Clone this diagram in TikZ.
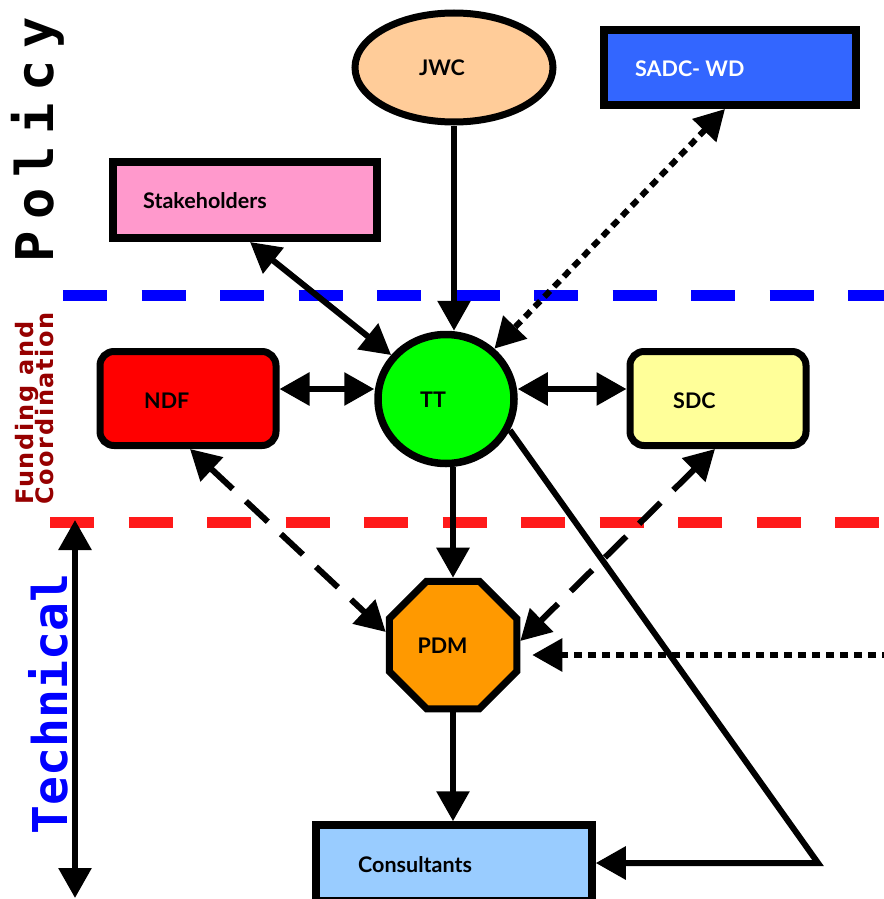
\documentclass[tikz,border=0pt]{standalone}
\usepackage{fontspec}
\setmainfont{Lato}
\newfontfamily\monofont{DejaVu Sans Mono}
\newfontfamily\policyfont{DejaVu Sans Mono}[UprightFont={* Bold}, LetterSpace=22]
\newfontfamily\fundfont{DejaVu Sans}[UprightFont={* Bold}, LetterSpace=7]
\usetikzlibrary{arrows.meta,shapes.geometric,calc}

\definecolor{jwcfill}{HTML}{FFCC99}
\definecolor{sadcfill}{HTML}{3366FF}
\definecolor{stakefill}{HTML}{FF99CC}
\definecolor{ttfill}{HTML}{00FF00}
\definecolor{ndffill}{HTML}{FF0000}
\definecolor{sdcfill}{HTML}{FFFF99}
\definecolor{pdmfill}{HTML}{FF9900}
\definecolor{consfill}{HTML}{99CCFF}
\definecolor{polblue}{HTML}{0000FF}
\definecolor{fundred}{HTML}{FF1A1A}
\definecolor{fundtext}{HTML}{960000}

\tikzset{
  shapebox/.style={draw=black, line width=7pt, inner sep=0pt},
  lbl/.style={inner sep=0pt, font=\fontsize{21.5}{24}\selectfont\bfseries},
  conn/.style={line width=6pt, >={Triangle[length=30pt,width=32pt]}},
  dashconn/.style={conn, dash pattern=on 30pt off 18pt},
  dotconn/.style={conn, dash pattern=on 8pt off 6pt},
  separator/.style={line width=11pt, dash pattern=on 44pt off 34.5pt},
}

\begin{document}
\begin{tikzpicture}[x=1pt,y=-1pt]
\useasboundingbox (0,0) rectangle (883,899);

% level separators
\coordinate (polL) at (63,295);
\coordinate (polR) at (890,295);
\coordinate (fundL) at (50,522);
\coordinate (fundR) at (890,522);
\draw[separator, polblue] (polL) -- (polR);
\draw[separator, fundred] (fundL) -- (fundR);

% level titles
\node[rotate=90, anchor=base, inner sep=0pt, font=\policyfont\fontsize{52}{52}\selectfont]
  (policy) at (53,140) {Policy};
\node[rotate=90, anchor=base west, inner sep=0pt, text=fundtext,
  font=\fundfont\fontsize{24}{24}\selectfont] (fund1) at (33,505) {Funding and};
\node[rotate=90, anchor=base west, inner sep=0pt, text=fundtext,
  font=\fundfont\fontsize{24}{24}\selectfont] (fund2) at (53,505) {Coordination};
\node[rotate=90, anchor=base, inner sep=0pt, text=polblue,
  font=\monofont\bfseries\fontsize{48}{48}\selectfont] (technical) at (67,704) {Technical};

% technical span arrow
\coordinate (techtop) at (75,520);
\coordinate (techbot) at (75,898);
\draw[conn,<->] (techtop) -- (techbot);

% shapes
\node[shapebox, ellipse, fill=jwcfill, minimum width=198pt, minimum height=109pt] (jwc) at (454,67.5) {};
\node[lbl] (jwc-t) at (442,68) {JWC};

\node[shapebox, line width=8pt, rectangle, fill=sadcfill, minimum width=252pt, minimum height=75pt] (sadc) at (730,67.5) {};
\node[lbl, anchor=west, text=white] (sadc-t) at (635,69) {SADC- WD};

\node[shapebox, line width=8pt, rectangle, fill=stakefill, minimum width=264pt, minimum height=76pt] (stake) at (245,200) {};
\node[lbl, anchor=west] (stake-t) at (143,201) {Stakeholders};

\node[shapebox, line width=7.5pt, ellipse, fill=ttfill, minimum width=136pt, minimum height=129pt] (tt) at (446,399) {};
\node[lbl] (tt-t) at (433,400) {TT};

\node[shapebox, rectangle, rounded corners=14pt, fill=ndffill, minimum width=176pt, minimum height=94pt] (ndf) at (188,398.5) {};
\node[lbl, anchor=west] (ndf-t) at (144,401) {NDF};

\node[shapebox, rectangle, rounded corners=14pt, fill=sdcfill, minimum width=176pt, minimum height=94pt] (sdc) at (718,398.5) {};
\node[lbl, anchor=west] (sdc-t) at (673,401) {SDC};

\node[shapebox, regular polygon, regular polygon sides=8, fill=pdmfill, minimum size=138pt] (pdm) at (453,645) {};
\node[lbl] (pdm-t) at (442.5,646) {PDM};

\node[shapebox, line width=7.5pt, rectangle, fill=consfill, minimum width=276pt, minimum height=76pt] (cons) at (454,863) {};
\node[lbl, anchor=west] (cons-t) at (358,865) {Consultants};

% connectors
\draw[conn,->] (jwc.south) -- (jwc.south |- tt.north);
\draw[conn,<->] ([xshift=5pt]stake.south) -- (tt);
\draw[dotconn,<->] ([xshift=-5pt]sadc.south) -- (tt);
\draw[conn,<->] ([yshift=9.5pt]ndf.east) -- ([yshift=9.5pt]ndf.east -| tt.west);
\draw[conn,<->] ([yshift=9.5pt]sdc.west -| tt.east) -- ([yshift=9.5pt]sdc.west);
\draw[conn,->] (tt.south -| pdm.north) -- (pdm.north);
\draw[dashconn,<->] ([xshift=2pt]ndf.south) -- ([yshift=13pt]pdm.west);
\draw[dashconn,<->] ([xshift=-3pt]sdc.south) -- ([yshift=4pt]pdm.east);
\coordinate (feed) at (890,655);
\draw[dotconn,->] (feed) -- ($(pdm.east |- feed)+(12,0)$);
\draw[conn,->] (pdm.south) -- (pdm.south |- cons.north);
\coordinate (bend) at (818,863);
\draw[conn,->] (tt.-26) -- (bend) -- (cons.east);

\end{tikzpicture}
\end{document}
